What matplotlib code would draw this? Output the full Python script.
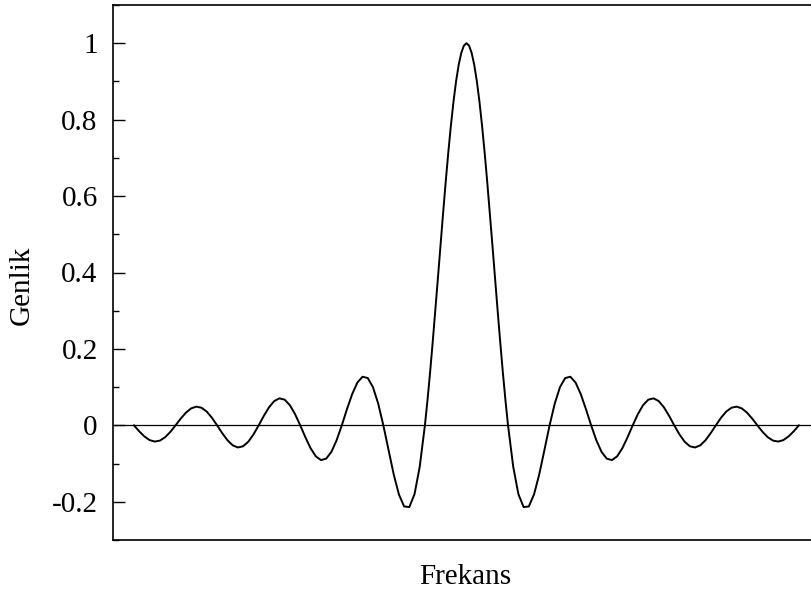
import matplotlib
matplotlib.use("Agg")
import matplotlib.pyplot as plt
from matplotlib.ticker import MultipleLocator
import numpy as np

# main lobe, 0..1 in steps of 1/16 (right half; the spectrum is even)
center_x = np.linspace(0, 1, 17)
center_amp = [1.0, 0.9936, 0.9745, 0.9432, 0.9003, 0.8469, 0.7842, 0.7136,
              0.6366, 0.5550, 0.4705, 0.3850, 0.3001, 0.2177, 0.1392, 0.0662,
              0.0]

# side lobes, 1..8 in steps of 1/8
side_x = np.linspace(1, 8, 57)
side_amp = [0.0, -0.1083, -0.1801, -0.2139, -0.2122, -0.1810, -0.1286, -0.0650,
            0.0, 0.0573, 0.1000, 0.1238, 0.1273, 0.1120, 0.0818, 0.0424,
            0.0, -0.0390, -0.0693, -0.0871, -0.0909, -0.0811, -0.0600, -0.0314,
            0.0, 0.0295, 0.0530, 0.0672, 0.0707, 0.0636, 0.0474, 0.0250,
            0.0, -0.0238, -0.0429, -0.0547, -0.0579, -0.0523, -0.0391, -0.0207,
            0.0, 0.0199, 0.0360, 0.0461, 0.0490, 0.0444, 0.0333, 0.0177,
            0.0, -0.0171, -0.0310, -0.0399, -0.0424, -0.0386, -0.0290, -0.0155,
            0.0]

yticks = [-0.2, 0, 0.2, 0.4, 0.6, 0.8, 1]
ytick_labels = ["-0.2", "0", "0.2", "0.4", "0.6", "0.8", "1"]

right_x = np.concatenate([center_x, side_x[1:]])
right_amp = np.array(center_amp + side_amp[1:])
freq = np.concatenate([-right_x[:0:-1], right_x])
amp = np.concatenate([right_amp[:0:-1], right_amp])

plt.rcParams["font.family"] = ["Liberation Serif", "DejaVu Serif"]

fig = plt.figure(figsize=(8.11, 5.99), dpi=100)
ax = fig.add_axes([113 / 811, 1 - 540 / 599, 1 - 113 / 811, 535 / 599])

ax.axhline(0, color="black", lw=0.9)
ax.plot(freq, amp, color="black", lw=1.4, solid_joinstyle="round")

ax.set_xlim(-8.505, 8.29)
ax.set_ylim(-0.3, 1.1)
ax.set_xticks([])
ax.set_yticks(yticks)
ax.set_yticklabels(ytick_labels)
ax.yaxis.set_minor_locator(MultipleLocator(0.1))
ax.tick_params(axis="y", which="major", direction="in", length=8.5,
               width=1, pad=11, labelsize=21)
ax.tick_params(axis="y", which="minor", direction="in", length=4.3, width=1)

ax.spines["right"].set_visible(False)
for s in ("left", "top", "bottom"):
    ax.spines[s].set_linewidth(1.2)

fig.text(22 / 811, 1 - 285 / 599, "Genlik", rotation=90,
         ha="center", va="center", fontsize=21)
fig.text(465 / 811, 1 - 577 / 599, "Frekans",
         ha="center", va="center", fontsize=21)

fig.savefig("out.png", dpi=100)
